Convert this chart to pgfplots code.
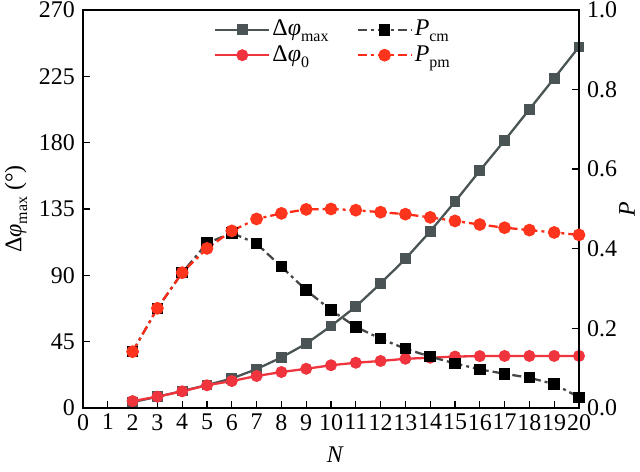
\documentclass[border=0pt]{standalone}
\usepackage{pgfplots}
\pgfplotsset{compat=1.18}
\usepackage{fontspec}
\setmainfont{Liberation Serif}
\definecolor{cgray}{RGB}{74,84,84}
\definecolor{cred}{RGB}{240,52,62}
\definecolor{corange}{RGB}{255,52,28}
\newcommand\sub[1]{\raisebox{-0.25em}{\fontsize{16}{16}\selectfont #1}}
\begin{document}
\fontsize{24}{28}\selectfont
\begin{tikzpicture}
\pgfplotsset{
  every axis/.append style={
    scale only axis, width=496bp, height=398bp,
    xmin=0, xmax=20,
    font=\fontsize{24}{28}\selectfont,
    tick label style={font=\fontsize{24}{28}\selectfont},
    /pgf/number format/assume math mode=true,
    major tick length=7bp,
    tick style={line width=1.4pt, black},
    axis line style={line width=1.4pt},
    clip=false,
  },
  mydashdot/.style={dash pattern=on 9bp off 4bp on 3bp off 4bp},
  sMax/.style={cgray, line width=2.3pt, mark=square*, mark size=4.2bp, mark options={solid, fill=cgray}},
  sZero/.style={cred, line width=2.3pt, mark=*, mark size=4.8bp, mark options={solid, fill=cred}},
  sPcm/.style={black!72, line width=2.3pt, mydashdot, mark=square*, mark size=4.6bp, mark options={solid, fill=black, draw=black}},
  sPpm/.style={corange!85!red, line width=2.3pt, mydashdot, mark=*, mark size=5.2bp, mark options={solid, fill=corange, draw=corange}},
}
\begin{axis}[
  name=ax,
  ymin=0, ymax=270,
  xtick={0,1,...,20},
  ytick={0,45,90,135,180,225,270},
  xtick pos=bottom, ytick pos=left,
  x tick label style={yshift=2bp},
  xlabel={\itshape N},
  x label style={at={(axis description cs:0.508,-0.118)}, anchor=center},
  ylabel={Δ{\itshape φ}\sub{max} (°)},
  y label style={at={(axis description cs:-0.135,0.5)}, anchor=center},
]
\addplot[sMax] coordinates {
(2,4) (3,7.6) (4,11.5) (5,15.6) (6,20) (7,26.4) (8,34.3) (9,43.6) (10,55.6)
(11,68.8) (12,84.5) (13,101.2) (14,119.8) (15,140) (16,161) (17,181.5)
(18,202.6) (19,223.7) (20,245)};
\addplot[sZero] coordinates {
(2,4.7) (3,7.7) (4,11.3) (5,15.4) (6,18.3) (7,21.7) (8,24.4) (9,26.6) (10,29)
(11,30.7) (12,31.9) (13,33.4) (14,34.1) (15,34.9) (16,35.2) (17,35.3)
(18,35.3) (19,35.3) (20,35.3)};
\end{axis}
\begin{axis}[
  ymin=0, ymax=1,
  axis x line=none,
  axis y line*=right,
  ytick={0,0.2,...,1.0},
  yticklabel style={/pgf/number format/.cd, fixed, fixed zerofill, precision=1},
  ylabel={\itshape P},
  y label style={at={(axis description cs:1.097,0.5)}, anchor=center},
  legend style={at={(axis description cs:0.258,0.985)}, anchor=north west, draw=none, fill=none,
    font=\fontsize{24}{28}\selectfont, row sep=2bp, /tikz/every even column/.append style={column sep=26bp}},
  legend columns=2,
  legend cell align=left,
  legend image code/.code={\draw[line width=2.3pt, mark repeat=2, mark phase=2] plot coordinates {(0bp,0bp) (27bp,0bp) (54bp,0bp)};},
]
\addplot[sPcm, forget plot] coordinates {
(2,0.1415) (3,0.2505) (4,0.340) (5,0.414) (6,0.440) (7,0.413) (8,0.355) (9,0.296)
(10,0.246) (11,0.204) (12,0.174) (13,0.149) (14,0.129) (15,0.112) (16,0.097)
(17,0.086) (18,0.076) (19,0.060) (20,0.027)};
\addplot[sPpm, forget plot] coordinates {
(2,0.1415) (3,0.2505) (4,0.340) (5,0.401) (6,0.445) (7,0.475) (8,0.489) (9,0.499)
(10,0.500) (11,0.497) (12,0.492) (13,0.487) (14,0.479) (15,0.470) (16,0.461)
(17,0.453) (18,0.447) (19,0.441) (20,0.435)};
\addlegendimage{sMax}
\addlegendentry{Δ{\itshape φ}\sub{max}}
\addlegendimage{sPcm}
\addlegendentry{{\itshape P}\sub{cm}}
\addlegendimage{sZero}
\addlegendentry{Δ{\itshape φ}\sub{0}}
\addlegendimage{sPpm}
\addlegendentry{{\itshape P}\sub{pm}}
\end{axis}
\pgfresetboundingbox
\path ([xshift=-83bp,yshift=-64bp]ax.south west) rectangle ([xshift=61bp,yshift=10bp]ax.north east);
\end{tikzpicture}
\end{document}
